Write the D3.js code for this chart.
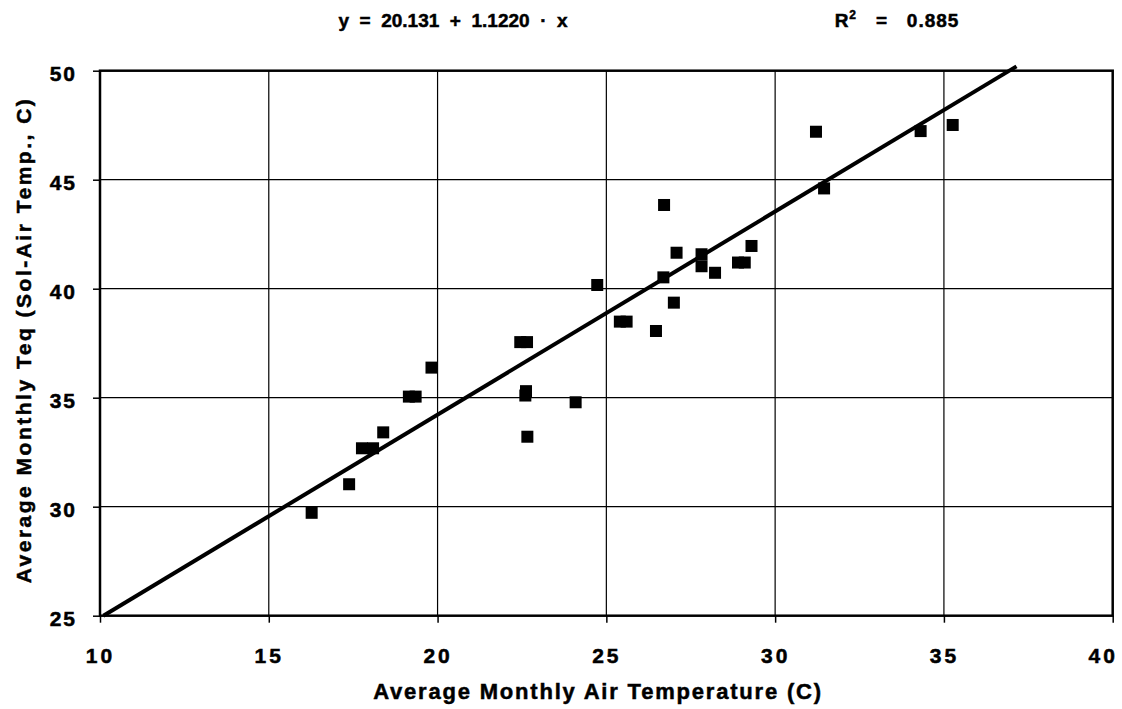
<!DOCTYPE html>
<html>
<head>
<meta charset="utf-8">
<script src="https://cdn.jsdelivr.net/npm/d3@7"></script>
<style>
  body { margin: 0; background: #fff; }
  text { font-family: "Liberation Sans", Arial, sans-serif; font-weight: bold; fill: #000;
         stroke: #000; stroke-width: 0.5px; }
</style>
</head>
<body>
<div id="chart"></div>
<script>
// air temperature (C) vs sol-air temperature (C)
var airTemp = [16.27, 17.38, 17.76, 18.09, 18.39, 19.15, 19.35, 19.82, 22.45, 22.65,
               22.6, 22.62, 22.66, 24.09, 24.73, 25.4, 25.6, 26.47, 26.69, 26.71,
               27.0, 27.08, 27.82, 27.82, 28.22, 28.9, 29.1, 29.3, 31.21, 31.45,
               34.31, 35.26]
var solAir  = [29.72, 31.03, 32.68, 32.68, 33.41, 35.05, 35.05, 36.38, 37.55, 37.55,
               35.1, 35.3, 33.21, 34.79, 40.17, 38.49, 38.49, 38.06, 40.52, 43.84,
               39.36, 41.65, 41.58, 41.03, 40.73, 41.2, 41.2, 41.96, 47.2, 44.6,
               47.23, 47.51]

// fitted line end points as drawn
var fitX = [10.1, 37.15]
var fitY = [25, 50.2]

var xTicks = [10, 15, 20, 25, 30, 35, 40]
var yTicks = [25, 30, 35, 40, 45, 50]

var eqText = "y  =  20.131  +  1.1220  \u00b7  x"
var r2Text = "   =   0.885"

var width = 1122
var height = 709
var margins = { top: 70.7, right: 9.3, bottom: 93.3, left: 100 }

var svg = d3.select("#chart")
    .append("svg")
    .attr("width", width)
    .attr("height", height)

var xScale = d3.scaleLinear()
    .domain([10, 40])
    .range([margins.left, width - margins.right])
var yScale = d3.scaleLinear()
    .domain([25, 50])
    .range([height - margins.bottom, margins.top])

var plotW = xScale(40) - xScale(10)
var plotH = yScale(25) - yScale(50)

// grid lines
svg.append("g")
    .selectAll("line")
    .data(xTicks.slice(1, -1))
    .enter()
    .append("line")
    .attr("x1", d => xScale(d)).attr("x2", d => xScale(d))
    .attr("y1", yScale(50)).attr("y2", yScale(25))
    .attr("stroke", "#000").attr("stroke-width", 1.2)
svg.append("g")
    .selectAll("line")
    .data(yTicks.slice(1, -1))
    .enter()
    .append("line")
    .attr("y1", d => yScale(d)).attr("y2", d => yScale(d))
    .attr("x1", xScale(10)).attr("x2", xScale(40))
    .attr("stroke", "#000").attr("stroke-width", 1.2)

// axes
var xaxis = d3.axisBottom(xScale).tickValues(xTicks).tickSize(7).tickPadding(25)
var yaxis = d3.axisLeft(yScale).tickValues(yTicks).tickSize(7).tickPadding(16)

var gx = svg.append("g")
    .attr("transform", "translate(0, " + yScale(25) + ")")
    .call(xaxis)
gx.select(".domain").remove()
gx.selectAll("line").attr("stroke", "#000").attr("stroke-width", 1.5)
gx.selectAll("text")
    .attr("font-size", "21px")
    .style("letter-spacing", "3px")
    .attr("dx", d => d == 40 ? -10 : 0)

var gy = svg.append("g")
    .attr("transform", "translate(" + xScale(10) + ", 0)")
    .call(yaxis)
gy.select(".domain").remove()
gy.selectAll("line").attr("stroke", "#000").attr("stroke-width", 1.5)
gy.selectAll("text")
    .attr("font-size", "21px")
    .attr("dy", "0.45em")
    .style("letter-spacing", "2px")

// frame
svg.append("rect")
    .attr("x", xScale(10))
    .attr("y", yScale(50))
    .attr("width", plotW)
    .attr("height", plotH)
    .attr("fill", "none")
    .attr("stroke", "#000")
    .attr("stroke-width", 2.5)

// points
var pts = airTemp.map((d, i) => ({ x: d, y: solAir[i] }))
svg.append("g")
    .selectAll("rect")
    .data(pts)
    .enter()
    .append("rect")
    .attr("x", d => xScale(d.x) - 6)
    .attr("y", d => yScale(d.y) - 6)
    .attr("width", 12)
    .attr("height", 12)
    .attr("fill", "#000")

// fit line
svg.append("line")
    .attr("x1", xScale(fitX[0])).attr("y1", yScale(fitY[0]))
    .attr("x2", xScale(fitX[1])).attr("y2", yScale(fitY[1]))
    .attr("stroke", "#000")
    .attr("stroke-width", 4)

// titles
svg.append("text")
    .attr("x", 453).attr("y", 27)
    .attr("text-anchor", "middle")
    .attr("font-size", "19px")
    .style("white-space", "pre")
    .text(eqText)

var r2 = svg.append("text")
    .attr("x", 897).attr("y", 27)
    .attr("text-anchor", "middle")
    .attr("font-size", "19px")
    .style("white-space", "pre")
    .style("letter-spacing", "1px")
r2.append("tspan").text("R")
r2.append("tspan").attr("font-size", "12px").attr("dy", -8).text("2")
r2.append("tspan").attr("dy", 8).text(r2Text)

svg.append("text")
    .attr("x", 598)
    .attr("y", 699)
    .attr("text-anchor", "middle")
    .attr("font-size", "22px")
    .style("letter-spacing", "1.8px")
    .text("Average Monthly Air Temperature (C)")

svg.append("text")
    .attr("transform", "translate(31, 340) rotate(-90)")
    .attr("text-anchor", "middle")
    .attr("font-size", "21px")
    .style("letter-spacing", "2.5px")
    .text("Average Monthly Teq (Sol-Air Temp., C)")
</script>
</body>
</html>
